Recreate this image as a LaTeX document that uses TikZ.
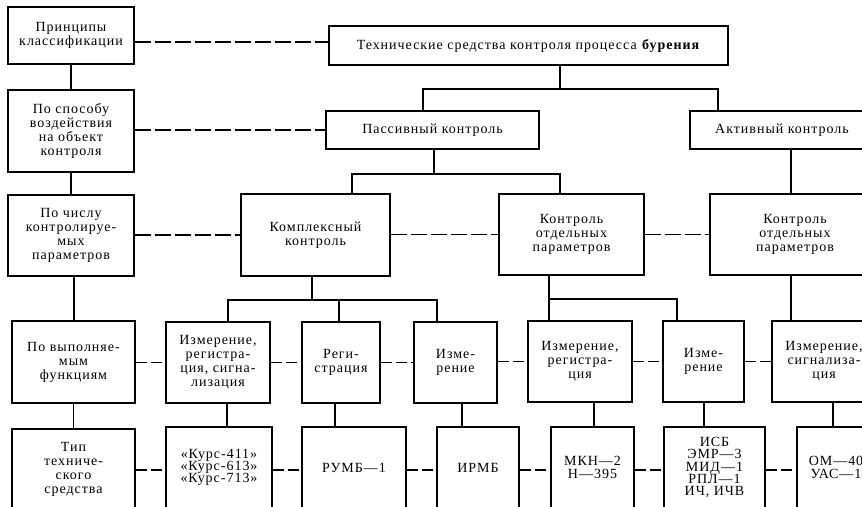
\documentclass[tikz,border=0pt]{standalone}
\usepackage{fontspec}
\setmainfont{Liberation Serif}[LetterSpace=7]
\usetikzlibrary{calc}
\tikzset{
  box/.style={draw, line width=1.2pt, inner sep=0pt, align=center,
    font=\fontsize{14}{14}\selectfont},
  lowbox/.style={box, font=\fontsize{14}{12.3}\selectfont},
  conn/.style={line width=1.2pt},
  dsh/.style={line width=1.2pt, dash pattern=on 16pt off 4pt},
  dshs/.style={line width=1.2pt, dash pattern=on 11pt off 4pt},
}
\begin{document}
\begin{tikzpicture}[x=1pt,y=-1pt]
\useasboundingbox (0,0) rectangle (862,506);
\clip (0,0) rectangle (862,506);
% row 1
\node[box, minimum width=126pt, minimum height=57pt] (prin) at (71,35.5) {Принципы\\классификации};
\node[box, minimum width=399pt, minimum height=39pt] (main) at (528.5,45.5) {Технические средства контроля процесса \textbf{бурения}};
% row 2
\node[box, minimum width=126pt, minimum height=82pt] (sposob) at (71,131) {По способу\\воздействия\\на объект\\контроля};
\node[box, minimum width=213pt, minimum height=38pt] (pass) at (432.5,130) {Пассивный контроль};
\node[box, minimum width=184pt, minimum height=38pt] (akt) at (782,130) {Активный контроль};
% row 3
\node[box, minimum width=126pt, minimum height=81pt] (chislo) at (71,235.5) {По числу\\контролируе-\\мых\\параметров};
\node[box, minimum width=149pt, minimum height=82pt] (kompl) at (315.5,235) {Комплексный\\контроль};
\node[box, minimum width=145pt, minimum height=81pt] (otd1) at (571.5,234.5) {Контроль\\отдельных\\параметров};
\node[box, minimum width=170pt, minimum height=81pt] (otd2) at (795,234.5) {Контроль\\отдельных\\параметров};
% row 4
\node[box, minimum width=123pt, minimum height=82pt] (funk) at (73.5,362) {По выполняе-\\мым\\функциям};
\node[box, minimum width=104pt, minimum height=81pt] (irs) at (218,362.5) {Измерение,\\регистра-\\ция, сигна-\\лизация};
\node[box, minimum width=78pt, minimum height=81pt] (reg) at (341,362.5) {Реги-\\страция};
\node[box, minimum width=83pt, minimum height=81pt] (izm1) at (455.5,362.5) {Изме-\\рение};
\node[box, minimum width=104pt, minimum height=81pt] (izmreg) at (580,361.5) {Измерение,\\регистра-\\ция};
\node[box, minimum width=81pt, minimum height=81pt] (izm2) at (703.5,361.5) {Изме-\\рение};
\node[box, minimum width=104pt, minimum height=81pt] (izmsig) at (824,361.5) {Измерение,\\сигнализа-\\ция};
% row 5
\node[box, minimum width=123pt, minimum height=81pt] (tip) at (73.5,469.5) {Тип\\техниче-\\ского\\средства};
\node[lowbox, minimum width=106pt, minimum height=81pt] (kurs) at (219,467.5) {«Курс-411»\\«Курс-613»\\«Курс-713»};
\node[lowbox, minimum width=104pt, minimum height=81pt] (rumb) at (354,467.5) {РУМБ—1};
\node[lowbox, minimum width=82pt, minimum height=81pt] (irmb) at (478,467.5) {ИРМБ};
\node[lowbox, minimum width=83pt, minimum height=81pt] (mkn) at (592.5,467.5) {МКН—2\\Н—395};
\node[lowbox, minimum width=101pt, minimum height=81pt] (isb) at (714.5,467.5) {ИСБ\\ЭМР—3\\МИД—1\\РПЛ—1\\ИЧ, ИЧВ};
\node[lowbox, minimum width=78pt, minimum height=81pt] (om) at (836,467.5) {ОМ—40\\УАС—1};
% left spine
\draw[conn] (prin.south) -- (sposob.north);
\draw[conn] (sposob.south) -- (chislo.north);
\draw[conn] (chislo.south -| 74,0) -- (funk.north -| 74,0);
\draw[conn] (funk.south) -- (tip.north -| funk.south);
% dashed rows
\draw[dsh] (prin.east |- 0,42) -- (main.west |- 0,42);
\draw[dsh] (sposob.east |- pass.west) -- (pass.west);
\draw[dsh] (chislo.east |- kompl.west) -- (kompl.west);
\draw[dsh] (kompl.east |- otd1.west) -- (otd1.west);
\draw[dsh] (otd1.east) -- (otd2.west);
\draw[dshs] (funk.east |- irs.west) -- (irs.west);
\draw[dshs] (irs.east) -- (reg.west);
\draw[dshs] (reg.east) -- (izm1.west);
\draw[dshs] (izm1.east |- izmreg.west) -- (izmreg.west);
\draw[dshs] (izmreg.east) -- (izm2.west);
\draw[dshs] (izm2.east) -- (izmsig.west);
\draw[dshs] (tip.east |- 0,470) -- (kurs.west |- 0,470);
\draw[dshs] (kurs.east |- 0,470) -- (rumb.west |- 0,470);
\draw[dshs] (rumb.east |- 0,470) -- (irmb.west |- 0,470);
\draw[dshs] (irmb.east |- 0,470) -- (mkn.west |- 0,470);
\draw[dshs] (mkn.east |- 0,470) -- (isb.west |- 0,470);
\draw[dshs] (isb.east |- 0,470) -- (om.west |- 0,470);
% tree: main -> pass, akt
\coordinate (j1) at (560,89);
\draw[conn] (main.south -| j1) -- (j1);
\draw[conn] (pass.north -| 423,0) |- (718,89) -- (akt.north -| 718,0);
% pass -> kompl, otd1
\coordinate (j2) at (434,174);
\draw[conn] (pass.south -| j2) -- (j2);
\draw[conn] (kompl.north -| 352,0) |- (560,174) -- (otd1.north -| 560,0);
% akt -> otd2
\draw[conn] (akt.south -| 791,0) -- (otd2.north -| 791,0);
% kompl -> irs, reg, izm1
\coordinate (j3) at (312,300);
\draw[conn] (kompl.south -| j3) -- (j3);
\draw[conn] (irs.north -| 228,0) |- (437,300) -- (izm1.north -| 437,0);
\draw[conn] (reg.north -| 339,0) -- (339,300);
% otd1 -> izmreg, izm2
\draw[conn] (otd1.south -| 549,0) -- (izmreg.north -| 549,0);
\draw[conn] (549,299) -- (677,299) -- (izm2.north -| 677,0);
% otd2 -> izmsig
\draw[conn] (otd2.south -| 791,0) -- (izmsig.north -| 791,0);
% row 4 -> row 5
\draw[conn] (irs.south -| 227,0) -- (kurs.north -| 227,0);
\draw[conn] (reg.south -| 335,0) -- (rumb.north -| 335,0);
\draw[conn] (izm1.south -| 462,0) -- (irmb.north -| 462,0);
\draw[conn] (izmreg.south -| 594,0) -- (mkn.north -| 594,0);
\draw[conn] (izm2.south -| 704,0) -- (isb.north -| 704,0);
\draw[conn] (izmsig.south -| 833,0) -- (om.north -| 833,0);
\end{tikzpicture}
\end{document}
